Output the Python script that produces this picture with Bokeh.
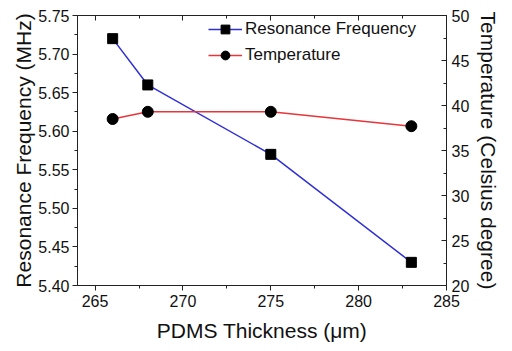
from bokeh.plotting import figure
from bokeh.models import (LinearAxis, Range1d, FixedTicker, PrintfTickFormatter, Legend, LegendItem,
                          CustomLabelingPolicy)
from bokeh.embed import file_html
from bokeh.resources import INLINE

thickness = [266, 268, 275, 283]
frequency = [5.72, 5.66, 5.57, 5.43]
temperature = [38.5, 39.3, 39.3, 37.7]

x_ticks = [265, 270, 275, 280, 285]
x_minor = [267.5, 272.5, 277.5, 282.5]
f_ticks = [5.40, 5.45, 5.50, 5.55, 5.60, 5.65, 5.70, 5.75]
f_minor = [5.425, 5.475, 5.525, 5.575, 5.625, 5.675, 5.725]
t_ticks = [20, 25, 30, 35, 40, 45, 50]
t_minor = [22.5, 27.5, 32.5, 37.5, 42.5, 47.5]

FONT = "Liberation Sans"
BLUE = "#2f2fd8"
RED = "#e8353a"

p = figure(frame_width=369, frame_height=270, output_backend="svg", toolbar_location=None,
           x_range=Range1d(264, 285), y_range=Range1d(5.40, 5.75),
           min_border_left=77, min_border_right=50, min_border_top=14, min_border_bottom=58)
p.extra_y_ranges = {"temp": Range1d(20, 50)}
p.background_fill_color = "white"
p.border_fill_color = "white"
p.outline_line_color = "#222222"
p.outline_line_width = 1
p.grid.visible = False

def style(ax):
    ax.axis_line_color = "#222222"
    ax.major_tick_line_color = "#222222"
    ax.minor_tick_line_color = "#222222"
    ax.major_label_text_font = FONT
    ax.major_label_text_font_size = "16px"
    ax.major_label_text_color = "#111111"
    ax.axis_label_text_font = FONT
    ax.axis_label_text_font_size = "21px"
    ax.axis_label_text_font_style = "normal"
    ax.axis_label_text_color = "#111111"

xa = p.xaxis[0]
xa.ticker = FixedTicker(ticks=x_ticks, minor_ticks=x_minor)
xa.axis_label = "PDMS Thickness (\u03bcm)"
style(xa)
xa.major_tick_out = 5
xa.major_tick_in = 0
xa.minor_tick_out = 3
xa.minor_tick_in = 0
xa.major_label_standoff = 4
xa.axis_label_standoff = 9

ya = p.yaxis[0]
ya.ticker = FixedTicker(ticks=f_ticks, minor_ticks=f_minor)
ya.formatter = PrintfTickFormatter(format="%.2f")
ya.axis_label = "Resonance Frequency (MHz)"
style(ya)
ya.major_tick_out = 5
ya.major_tick_in = 0
ya.minor_tick_out = 3
ya.minor_tick_in = 0
ya.major_label_standoff = 3
ya.axis_label_standoff = 0

ra = LinearAxis(y_range_name="temp", ticker=FixedTicker(ticks=t_ticks, minor_ticks=t_minor),
                axis_label="Temperature (Celsius degree)")
style(ra)
ra.major_tick_out = 0
ra.major_tick_in = 5
ra.minor_tick_out = 0
ra.minor_tick_in = 3
ra.major_label_standoff = 5
ra.axis_label_standoff = 5
p.add_layout(ra, "right")

ta = LinearAxis(ticker=FixedTicker(ticks=x_ticks, minor_ticks=x_minor))
style(ta)
ta.major_label_policy = CustomLabelingPolicy(code="""
    const n = indices.size
    for (let i = 0; i < n; i++) { indices.unset(i) }
    return indices
""")
ta.major_label_standoff = 0
ta.major_tick_out = 0
ta.major_tick_in = 5
ta.minor_tick_out = 0
ta.minor_tick_in = 3
p.add_layout(ta, "above")

l1 = p.line(thickness, frequency, line_color=BLUE, line_width=1.5)
s1 = p.scatter(thickness, frequency, marker="square", size=10, fill_color="black", line_color="black")
l2 = p.line(thickness, temperature, y_range_name="temp", line_color=RED, line_width=1.5)
s2 = p.scatter(thickness, temperature, y_range_name="temp", marker="circle", size=11,
               fill_color="black", line_color="black")

legend = Legend(items=[LegendItem(label="Resonance Frequency", renderers=[l1, s1]),
                       LegendItem(label="Temperature", renderers=[l2, s2])],
                location=(131, 219))
legend.margin = 0
legend.padding = 0
legend.spacing = 4
legend.label_height = 22
legend.glyph_height = 22
legend.glyph_width = 34
legend.label_standoff = 3
legend.label_text_font = FONT
legend.label_text_font_size = "17px"
legend.label_text_color = "#111111"
legend.border_line_alpha = 0
legend.background_fill_alpha = 0
p.add_layout(legend)

open("out.html", "w").write(file_html(p, INLINE))
